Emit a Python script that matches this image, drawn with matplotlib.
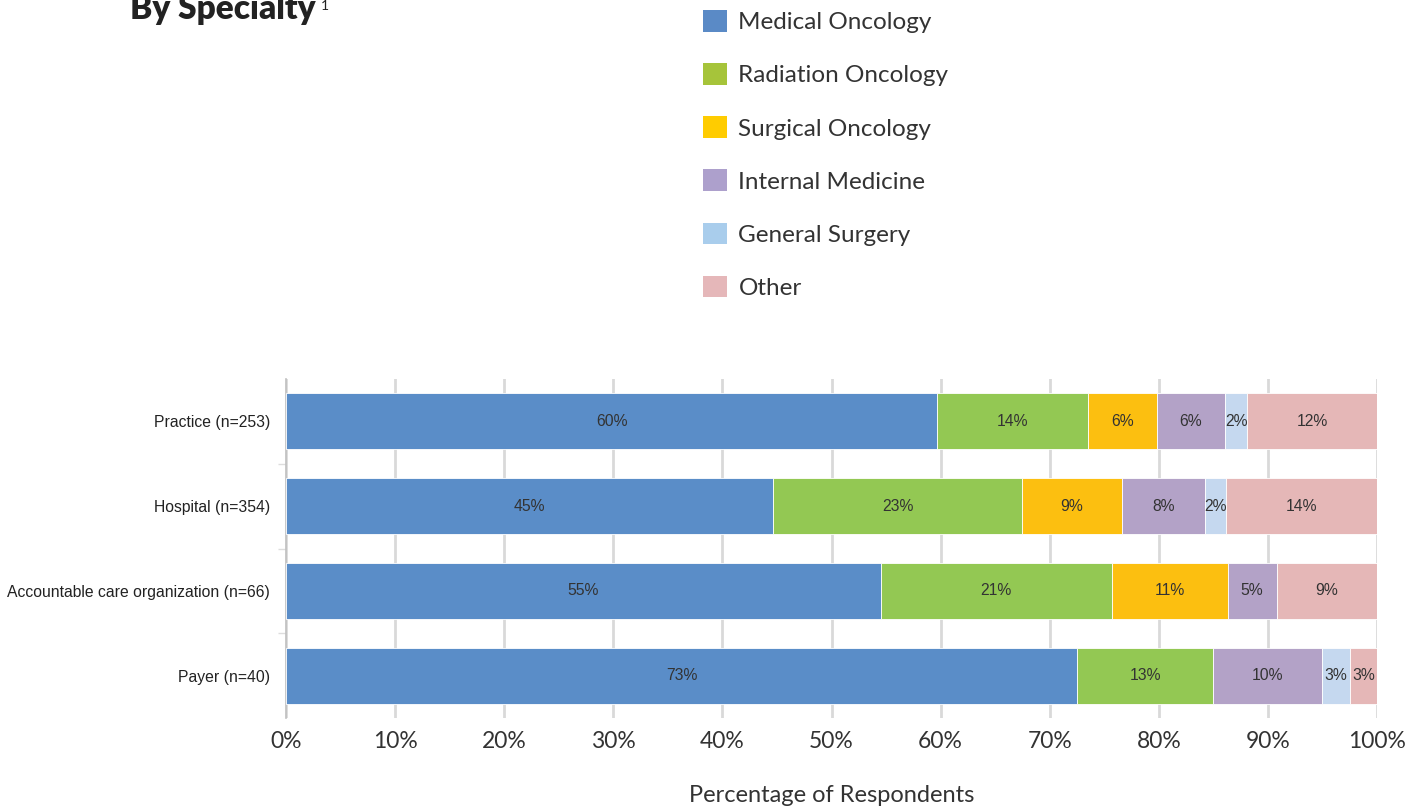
import numpy as np
from matplotlib import pyplot as plt
from matplotlib.patches import Patch

# data (percent of respondents)
categories = ["Practice (n=253)", "Hospital (n=354)",
              "Accountable care organization (n=66)", "Payer (n=40)"]
specialties = ["Medical Oncology", "Radiation Oncology", "Surgical Oncology",
               "Internal Medicine", "General Surgery", "Other"]
medical = [59.7, 44.6, 54.5, 72.5]
radiation = [13.8, 22.9, 21.2, 12.5]
surgical = [6.3, 9.1, 10.6, 0.0]
internal = [6.3, 7.6, 4.5, 10.0]
general = [2.0, 2.0, 0.0, 2.5]
other = [11.9, 13.8, 9.2, 2.5]

bar_colors = ["#5A8DC8", "#93C853", "#FCBF10", "#B3A2C7", "#C5D8EF", "#E5B7B7"]
legend_colors = ["#5A8AC6", "#A6C43A", "#FFCC00", "#ADA0CC", "#A9CDEC", "#E5B7B9"]

series = [medical, radiation, surgical, internal, general, other]

fig = plt.figure(figsize=(14.06, 8.11), dpi=100)
W, H = 1406, 811
ax = fig.add_axes([286 / W, 1 - 718 / H, (1377 - 286) / W, (718 - 379) / H])

y = np.arange(len(categories))
left = np.zeros(len(categories))
for vals, col in zip(series, bar_colors):
    vals = np.array(vals)
    ax.barh(y, vals, left=left, height=0.66, color=col, edgecolor="white",
            linewidth=0.6, zorder=3)
    for yi, (l, v) in enumerate(zip(left, vals)):
        if v > 0:
            ax.text(l + v / 2, yi, "%d%%" % int(v + 0.5), ha="center", va="center",
                    fontsize=11.3, color="#333333", family="Liberation Sans", zorder=4)
    left += vals

ax.set_xlim(0, 100)
ax.set_ylim(3.5, -0.5)
ax.set_yticks(y)
ax.set_yticklabels(categories, family="Liberation Sans", fontsize=11.3, color="#222222")
ax.set_yticks([0.5, 1.5, 2.5], minor=True)
ax.tick_params(axis="y", which="major", length=0, pad=11.5)
ax.tick_params(axis="y", which="minor", length=6, color="#dddddd", width=1)
ax.set_xticks(np.arange(0, 101, 10))
ax.set_xticklabels(["%d%%" % v for v in range(0, 101, 10)], family="Lato",
                   fontsize=16.5, color="#333333")
ax.tick_params(axis="x", length=0, pad=9)
ax.grid(axis="x", color="#d9d9d9", linewidth=2, zorder=0)
for s in ["top", "right", "bottom"]:
    ax.spines[s].set_visible(False)
ax.spines["left"].set_color("#bfbfbf")
ax.spines["left"].set_linewidth(1.2)
ax.set_xlabel("Percentage of Respondents", family="Lato",
              fontsize=17, color="#333333", labelpad=24)

handles = [Patch(facecolor=c, edgecolor="none") for c in legend_colors]
fig.legend(handles, specialties, loc="upper left", bbox_to_anchor=(691 / W, 1 + 2 / H),
           frameon=False, prop={"family": "Lato", "size": 17.5},
           handlelength=1.0, handleheight=1.0, handletextpad=0.45,
           labelspacing=1.23, borderpad=0, labelcolor="#333333")

fig.text(130 / W, 1 - 19 / H, "By Specialty", fontsize=24, fontweight="heavy",
         family="Lato", color="#222222", va="baseline", ha="left")
fig.text(321 / W, 1 - 10 / H, "1", fontsize=10, family="Lato",
         color="#222222", va="baseline", ha="left")

plt.savefig("out.png", dpi=100)
